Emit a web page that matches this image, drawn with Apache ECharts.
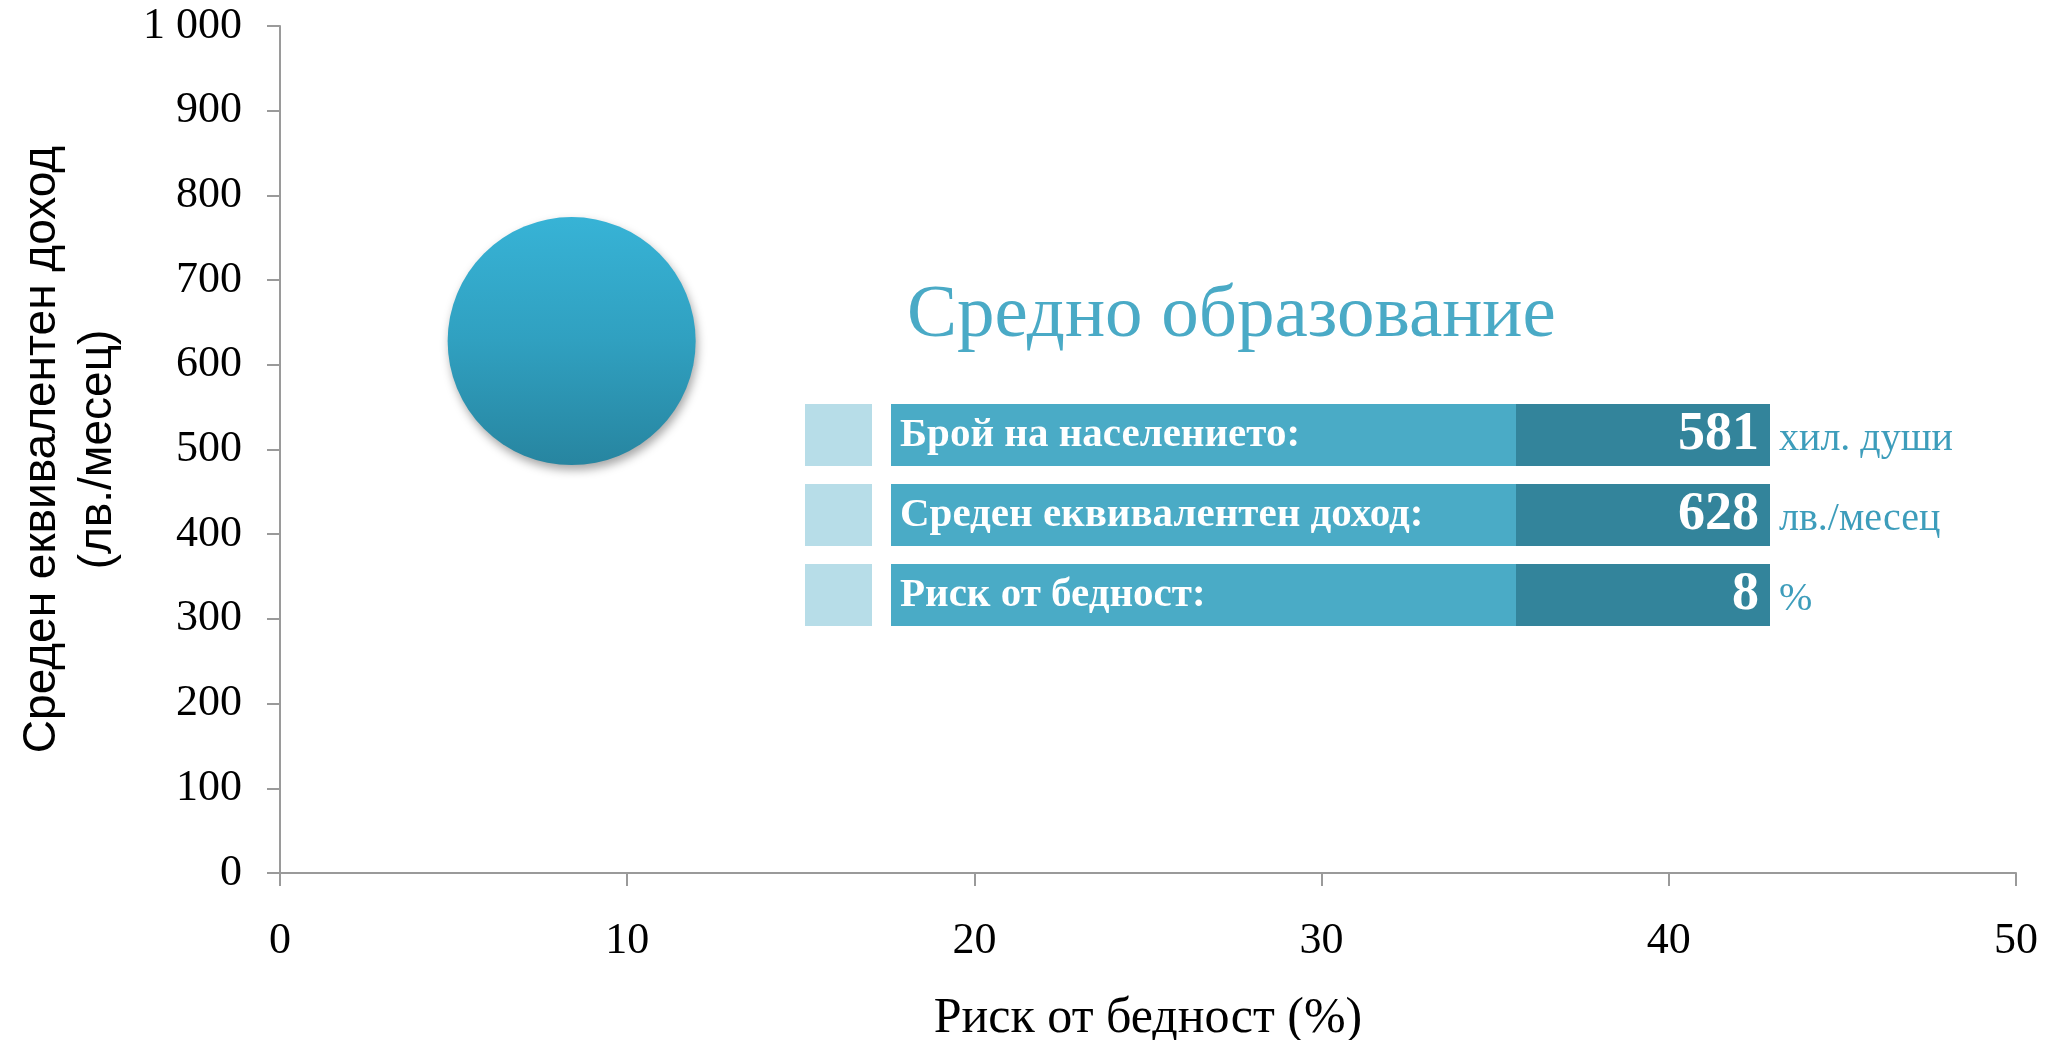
<!DOCTYPE html>
<html>
<head>
<meta charset="utf-8">
<script src="https://cdn.jsdelivr.net/npm/echarts@6/dist/echarts.min.js"></script>
<style>html,body{margin:0;padding:0;background:#fff}#c{width:2046px;height:1040px}</style>
</head>
<body>
<div id="c"></div>
<script>
// Data
var xTickLabels = ['0', '10', '20', '30', '40', '50'];
var yTickLabels = ['0', '100', '200', '300', '400', '500', '600', '700', '800', '900', '1 000'];
var riskPct = [8.4];          // x: риск от бедност (%)
var incomeLv = [628];         // y: среден еквивалентен доход (лв./месец)
var population = [581];       // bubble size: хил. души
var groupName = 'Средно образование';
var panelLabels = ['Брой на населението:', 'Среден еквивалентен доход:', 'Риск от бедност:'];
var panelValues = ['581', '628', '8'];
var panelUnits = ['хил. души', 'лв./месец', '%'];

var chart = echarts.init(document.getElementById('c'), null, {renderer: 'canvas'});

var serif = '"Liberation Serif", "DejaVu Serif", serif';
var seriesData = riskPct.map(function (x, i) { return [x, incomeLv[i], population[i]]; });

var graphics = [];
graphics.push({
  type: 'text', x: 907, y: 316,
  style: {text: groupName, font: '75px ' + serif, fill: '#4aaac6', textAlign: 'left', textVerticalAlign: 'middle'}
});
var rowTop = [404, 484, 564];
for (var i = 0; i < panelLabels.length; i++) {
  var t = rowTop[i], h = 62, cy = t + h / 2;
  graphics.push({type: 'rect', shape: {x: 805, y: t, width: 67, height: h}, style: {fill: '#b7dde8'}});
  graphics.push({type: 'rect', shape: {x: 891, y: t, width: 625, height: h}, style: {fill: '#4aabc6'}});
  graphics.push({type: 'rect', shape: {x: 1516, y: t, width: 254, height: h}, style: {fill: '#33849b'}});
  graphics.push({type: 'text', x: 900, y: cy, style: {text: panelLabels[i], font: 'bold 41px ' + serif, fill: '#ffffff', textAlign: 'left', textVerticalAlign: 'middle'}});
  graphics.push({type: 'text', x: 1759, y: cy, style: {text: panelValues[i], font: 'bold 54px ' + serif, fill: '#ffffff', textAlign: 'right', textVerticalAlign: 'middle'}});
  graphics.push({type: 'text', x: 1779, y: cy + 4, style: {text: panelUnits[i], font: '40px ' + serif, fill: '#3d9dbb', textAlign: 'left', textVerticalAlign: 'middle'}});
}

var option = {
  backgroundColor: '#ffffff',
  animation: false,
  grid: {left: 280, right: 30, top: 26, bottom: 167, containLabel: false, outerBoundsMode: 'none'},
  xAxis: {
    type: 'value', min: 0, max: 50, interval: 10,
    name: 'Риск от бедност (%)', nameLocation: 'middle', nameGap: 121,
    nameTextStyle: {fontFamily: serif, fontSize: 50, color: '#000'},
    axisLine: {show: true, lineStyle: {color: '#9a9a9a', width: 2}},
    axisTick: {show: true, length: 13, lineStyle: {color: '#9a9a9a', width: 2}},
    axisLabel: {margin: 46, fontFamily: serif, fontSize: 44, color: '#000',
      formatter: function (v) { return xTickLabels[Math.round(v / 10)]; }},
    splitLine: {show: false}
  },
  yAxis: {
    type: 'value', min: 0, max: 1000, interval: 100,
    name: 'Среден еквивалентен доход\n(лв./месец)', nameLocation: 'middle', nameRotate: 90, nameGap: 154,
    nameTextStyle: {fontFamily: '"Liberation Sans", Arial, sans-serif', fontSize: 46, color: '#000', lineHeight: 56},
    axisLine: {show: true, lineStyle: {color: '#9a9a9a', width: 2}},
    axisTick: {show: true, length: 13, lineStyle: {color: '#9a9a9a', width: 2}},
    axisLabel: {margin: 38, fontFamily: serif, fontSize: 44, color: '#000',
      formatter: function (v) { return yTickLabels[Math.round(v / 100)]; }},
    splitLine: {show: false}
  },
  series: [{
    type: 'scatter',
    data: seriesData,
    symbol: 'circle',
    symbolSize: function (d) { return Math.sqrt(d[2]) * 10.29; },
    itemStyle: {
      color: new echarts.graphic.LinearGradient(0, 0, 0, 1, [
        {offset: 0, color: '#37b3d6'},
        {offset: 0.5, color: '#30a0c0'},
        {offset: 1, color: '#2785a0'}
      ]),
      opacity: 1,
      shadowBlur: 10, shadowOffsetX: 2, shadowOffsetY: 5, shadowColor: 'rgba(0,0,0,0.35)'
    },
    emphasis: {disabled: true}
  }],
  graphic: graphics
};
chart.setOption(option);
</script>
</body>
</html>
